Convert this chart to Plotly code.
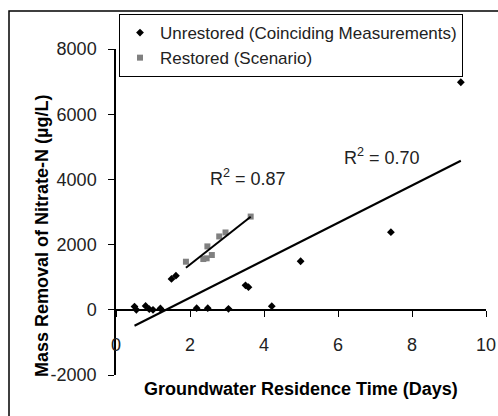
import numpy as np
import plotly.graph_objects as go

# ---- data ----
unrestored_x = [0.50, 0.55, 0.80, 0.90, 1.00, 1.20, 1.50, 1.62, 2.18, 2.48, 3.04, 3.50, 3.58, 4.21, 4.99, 7.43, 9.32]
unrestored_y = [100, 0, 120, 20, 0, 40, 946, 1047, 50, 50, 30, 750, 693, 110, 1490, 2380, 6980]
restored_x = [1.89, 2.36, 2.45, 2.47, 2.59, 2.79, 2.96, 3.64]
restored_y = [1475, 1557, 1579, 1945, 1680, 2250, 2372, 2860]
series_names = ["Unrestored (Coinciding Measurements)", "Restored (Scenario)"]
r2_labels = ["R<sup>2</sup> = 0.70", "R<sup>2</sup> = 0.87"]
x_ticks = [0, 2, 4, 6, 8, 10]
x_tick_text = ["0", "2", "4", "6", "8", "10"]
y_ticks = [-2000, 0, 2000, 4000, 6000, 8000]
y_tick_text = ["-2000", "0", "2000", "4000", "6000", "8000"]
x_title = "Groundwater Residence Time (Days)"
y_title = "Mass Removal of Nitrate-N (µg/L)"

FONT = "Liberation Sans, Arial, sans-serif"
W, H = 498, 416
L, R, T, B = 116, 12, 49, 41
PW, PH = W - L - R, H - T - B


def fx(px):
    return (px - L) / PW


def fy(py):
    return (H - B - py) / PH


def fit_line(xs, ys):
    xs = np.asarray(xs, float)
    ys = np.asarray(ys, float)
    m, c = np.polyfit(xs, ys, 1)
    lx = np.array([xs.min(), xs.max()])
    return lx, m * lx + c


fig = go.Figure()

fig.add_trace(go.Scatter(
    x=unrestored_x, y=unrestored_y, mode="markers", name=series_names[0],
    marker=dict(symbol="diamond", size=6, color="black"),
))
fig.add_trace(go.Scatter(
    x=restored_x, y=restored_y, mode="markers", name=series_names[1],
    marker=dict(symbol="square", size=6, color="#808080"),
))

lx, ly = fit_line(unrestored_x, unrestored_y)
fig.add_trace(go.Scatter(x=lx, y=ly, mode="lines", showlegend=False,
                         line=dict(color="black", width=2), hoverinfo="skip"))
lx2, ly2 = fit_line(restored_x, restored_y)
fig.add_trace(go.Scatter(x=lx2, y=ly2, mode="lines", showlegend=False,
                         line=dict(color="black", width=2), hoverinfo="skip"))

annos = [
    dict(x=7.2, y=4700, xref="x", yref="y", text=r2_labels[0], showarrow=False,
         font=dict(family=FONT, size=18, color="#222")),
    dict(x=3.57, y=4060, xref="x", yref="y", text=r2_labels[1], showarrow=False,
         font=dict(family=FONT, size=18, color="#222")),
    dict(x=fx(301), y=fy(401), xref="paper", yref="paper", text="<b>" + x_title + "</b>",
         showarrow=False, font=dict(family=FONT, size=18, color="black")),
    dict(x=fx(30), y=fy(236), xref="paper", yref="paper", text="<b>" + y_title + "</b>",
         textangle=-90, showarrow=False, font=dict(family=FONT, size=18, color="black")),
]

fig.update_layout(
    width=W, height=H,
    margin=dict(l=L, r=R, t=T, b=B, autoexpand=False),
    paper_bgcolor="white", plot_bgcolor="white",
    font=dict(family=FONT, size=18, color="#222"),
    annotations=annos,
    showlegend=True,
    legend=dict(
        x=fx(119), y=fy(14), xanchor="left", yanchor="top",
        bordercolor="black", borderwidth=1, bgcolor="white",
        font=dict(family=FONT, size=17, color="#222"),
        tracegroupgap=0, itemwidth=30,
    ),
    shapes=[dict(type="rect", xref="paper", yref="paper",
                 x0=fx(9), y0=fy(420), x1=fx(505), y1=fy(11),
                 line=dict(color="black", width=1.5), fillcolor="rgba(0,0,0,0)")],
    xaxis=dict(
        range=[0, 10], tickvals=x_ticks, ticktext=x_tick_text,
        showgrid=False, zeroline=False,
        showline=True, linecolor="black", linewidth=1.5,
        ticks="outside", ticklen=6, tickcolor="black",
        anchor="free", position=0.2, ticklabelstandoff=13,
        tickfont=dict(family=FONT, size=18, color="#222"),
    ),
    yaxis=dict(
        range=[-2000, 8000], tickvals=y_ticks, ticktext=y_tick_text,
        showgrid=False, zeroline=False,
        showline=True, linecolor="black", linewidth=1.5,
        ticks="outside", ticklen=6, tickcolor="black", ticklabelstandoff=8,
        tickfont=dict(family=FONT, size=18, color="#222"),
    ),
)

fig.write_html("out.html")
